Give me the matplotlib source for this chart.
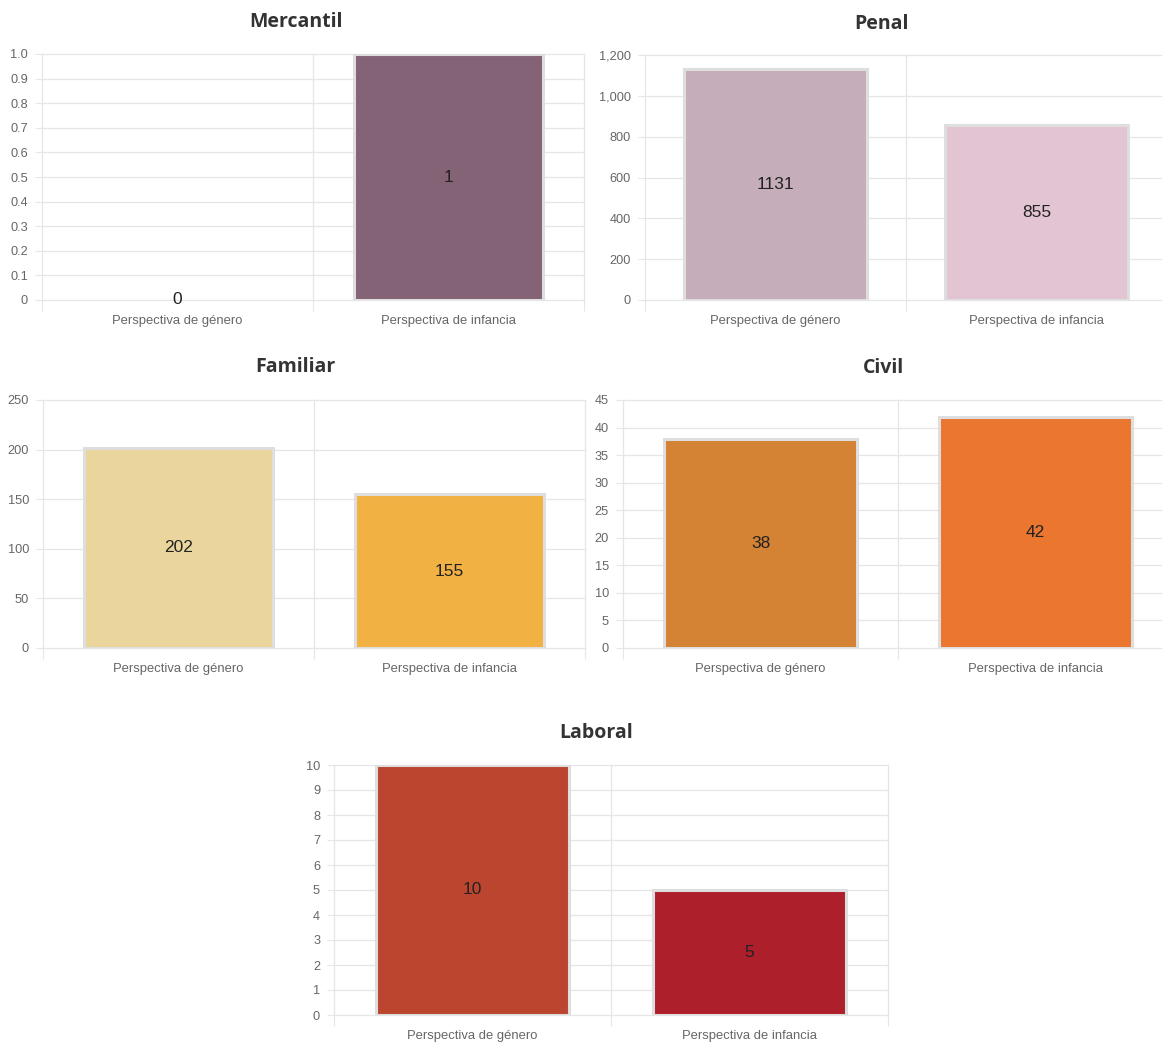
import matplotlib
matplotlib.use("Agg")
import matplotlib.pyplot as plt
from matplotlib.ticker import FixedLocator, FixedFormatter

categories = ["Perspectiva de género", "Perspectiva de infancia"]

mercantil_values = [0, 1]
penal_values = [1131, 855]
familiar_values = [202, 155]
civil_values = [38, 42]
laboral_values = [10, 5]

mercantil_yticks = [0, 0.1, 0.2, 0.3, 0.4, 0.5, 0.6, 0.7, 0.8, 0.9, 1.0]
mercantil_ylabels = ["0", "0.1", "0.2", "0.3", "0.4", "0.5", "0.6", "0.7", "0.8", "0.9", "1.0"]
penal_yticks = [0, 200, 400, 600, 800, 1000, 1200]
penal_ylabels = ["0", "200", "400", "600", "800", "1,000", "1,200"]
familiar_yticks = [0, 50, 100, 150, 200, 250]
familiar_ylabels = [str(v) for v in familiar_yticks]
civil_yticks = [0, 5, 10, 15, 20, 25, 30, 35, 40, 45]
civil_ylabels = [str(v) for v in civil_yticks]
laboral_yticks = list(range(0, 11))
laboral_ylabels = [str(v) for v in laboral_yticks]

W, H = 1162, 1043
fig = plt.figure(figsize=(W / 100, H / 100), dpi=100)
fig.patch.set_facecolor("white")

GRID = "#e6e6e6"
TICKC = "#666666"
SANS = ["Liberation Sans", "DejaVu Sans"]


def panel(px_left, px_right, px_top, px_bottom, values, yticks, ylabels, colors,
          title, title_x, title_y):
    ax = fig.add_axes([px_left / W, 1 - px_bottom / H,
                       (px_right - px_left) / W, (px_bottom - px_top) / H])
    x = list(range(len(categories)))
    lws = [2.2 if v != 0 else 0 for v in values]
    ax.bar(x, values, width=0.70, color=colors, edgecolor="#dedede",
           linewidth=lws, zorder=3)
    ax.set_xlim(-0.5, len(categories) - 0.5)
    ax.set_ylim(yticks[0], yticks[-1])
    for s in ax.spines.values():
        s.set_visible(False)
    # y axis
    ax.yaxis.set_major_locator(FixedLocator(yticks))
    ax.yaxis.set_major_formatter(FixedFormatter(ylabels))
    ax.tick_params(axis="y", which="major", length=5, width=0.8, color=GRID,
                   pad=5, labelsize=9.2, labelcolor=TICKC)
    # x axis
    bounds = [i - 0.5 for i in range(len(categories) + 1)]
    ax.xaxis.set_major_locator(FixedLocator(x))
    ax.xaxis.set_major_formatter(FixedFormatter(categories))
    ax.xaxis.set_minor_locator(FixedLocator(bounds))
    ax.tick_params(axis="x", which="major", length=0, pad=11, labelsize=9.4,
                   labelcolor=TICKC)
    ax.tick_params(axis="x", which="minor", length=8, width=0.8, color=GRID)
    for lab in ax.get_xticklabels() + ax.get_yticklabels():
        lab.set_fontfamily(SANS)
    for yv in yticks:
        ax.axhline(yv, color=GRID, linewidth=0.9, zorder=0, clip_on=False)
    for b in bounds:
        ax.axvline(b, color=GRID, linewidth=0.9, zorder=0, clip_on=False)
    for xi, v in zip(x, values):
        ax.text(xi, v / 2, str(v), ha="center", va="center", fontsize=12.5,
                color="#222222", family=SANS, zorder=4)
    fig.text(title_x / W, 1 - title_y / H, title, ha="center", va="center",
             fontsize=14, fontweight="bold", color="#333333",
             family=["Open Sans", "DejaVu Sans"])
    return ax


panel(42, 584, 54, 300, mercantil_values, mercantil_yticks, mercantil_ylabels,
      ["#846376", "#846376"], "Mercantil", 296, 22)
panel(645, 1167, 55, 300, penal_values, penal_yticks, penal_ylabels,
      ["#c5adb9", "#e3c4d3"], "Penal", 882, 24)
panel(43, 585, 400, 648, familiar_values, familiar_yticks, familiar_ylabels,
      ["#ead69c", "#f2b143"], "Familiar", 295, 367)
panel(623, 1173, 400, 648, civil_values, civil_yticks, civil_ylabels,
      ["#d48233", "#ea762f"], "Civil", 883, 368)
panel(334, 888, 765, 1015, laboral_values, laboral_yticks, laboral_ylabels,
      ["#bc4530", "#ae1f2c"], "Laboral", 596, 733)

fig.savefig("out.png", dpi=100, facecolor="white")
